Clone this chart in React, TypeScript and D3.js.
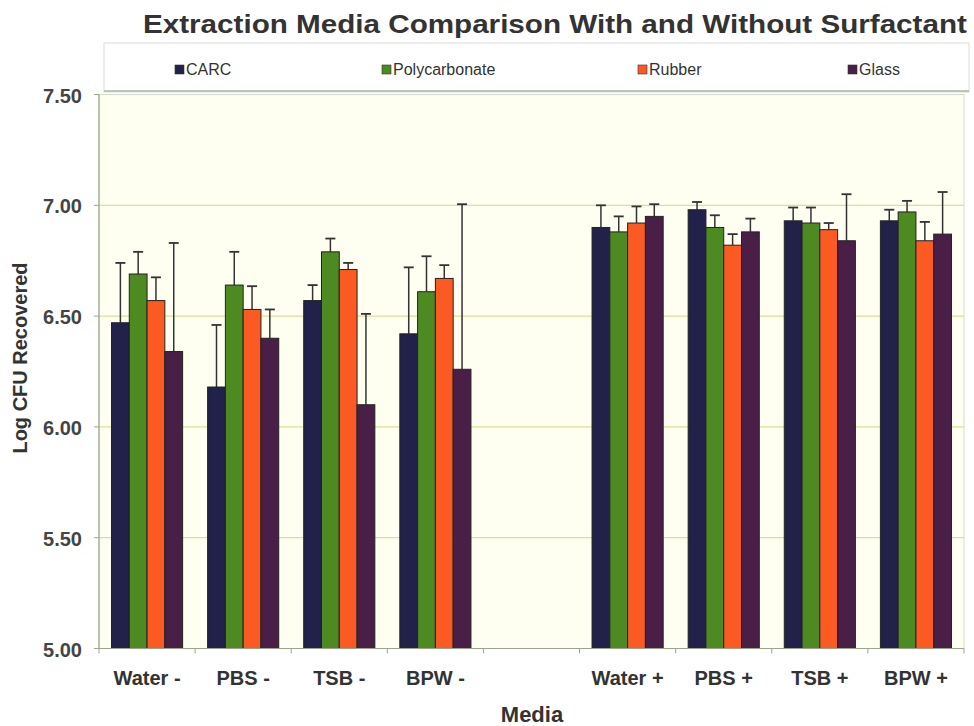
import React from "react";
import * as d3 from "d3";

const categories = ["Water -", "PBS -", "TSB -", "BPW -", "", "Water +", "PBS +", "TSB +", "BPW +"];
const seriesNames = ["CARC", "Polycarbonate", "Rubber", "Glass"];
const seriesColors = ["#22214a", "#4d8a22", "#fb5a22", "#4a1f47"];

const carcValues = [6.47, 6.18, 6.57, 6.42, null, 6.90, 6.98, 6.93, 6.93];
const carcErrors = [0.27, 0.28, 0.07, 0.30, null, 0.10, 0.035, 0.06, 0.05];
const polyValues = [6.69, 6.64, 6.79, 6.61, null, 6.88, 6.90, 6.92, 6.97];
const polyErrors = [0.10, 0.15, 0.06, 0.16, null, 0.07, 0.055, 0.07, 0.05];
const rubberValues = [6.57, 6.53, 6.71, 6.67, null, 6.92, 6.82, 6.89, 6.84];
const rubberErrors = [0.105, 0.105, 0.03, 0.06, null, 0.075, 0.05, 0.03, 0.085];
const glassValues = [6.34, 6.40, 6.10, 6.26, null, 6.95, 6.88, 6.84, 6.87];
const glassErrors = [0.49, 0.13, 0.41, 0.745, null, 0.055, 0.06, 0.21, 0.19];

const yTicks = [5.0, 5.5, 6.0, 6.5, 7.0, 7.5];

const seriesValues = [carcValues, polyValues, rubberValues, glassValues];
const seriesErrors = [carcErrors, polyErrors, rubberErrors, glassErrors];

export default function App() {
  const W = 974;
  const H = 726;
  const left = 99;
  const right = 964;
  const top = 94.5;
  const bottom = 648.5;

  const x = d3.scaleBand<string>()
    .domain(categories.map((c, i) => String(i)))
    .range([left, right])
    .paddingInner(0.26)
    .paddingOuter(0.13);
  const xs = d3.scaleBand<string>()
    .domain(seriesNames)
    .range([0, x.bandwidth()])
    .padding(0);
  const y = d3.scaleLinear().domain([5, 7.5]).range([bottom, top]);
  const step = x.step();

  const font = "Arial, 'Liberation Sans', sans-serif";
  const legendX = [175, 382, 638, 848];

  return (
    <svg width={W} height={H} style={{ position: "absolute", left: 0, top: 0, background: "#fff" }}>
      <rect x={0} y={0} width={W} height={H} fill="#ffffff" />
      <text transform="translate(143,33) scale(1.14,1)" x={0} y={0} fontFamily={font} fontWeight="bold" fontSize={26} fill="#333">
        Extraction Media Comparison With and Without Surfactant
      </text>
      {/* legend */}
      <rect x={104} y={43} width={865} height={49} fill="#fff" stroke="#dcdcdc" strokeWidth={1} />
      <line x1={104} x2={969} y1={91} y2={91} stroke="#a9b3a9" strokeWidth={1.5} />
      {seriesNames.map((s, i) => (
        <g key={s}>
          <rect x={legendX[i]} y={65} width={9} height={9} fill={seriesColors[i]} stroke="#333" strokeWidth={0.6} />
          <text x={legendX[i] + 11} y={75} fontFamily={font} fontSize={16} fill="#333">{s}</text>
        </g>
      ))}
      {/* plot area */}
      <rect x={left} y={top} width={right - left} height={bottom - top} fill="#fefef1" stroke="#cfe0c8" strokeWidth={1} />
      {yTicks.map((t) => (
        <g key={t}>
          {t > 5 && t < 7.5 && (
            <line x1={left} x2={right} y1={y(t)} y2={y(t)} stroke="#dbe095" strokeWidth={1.2} />
          )}
          <line x1={left - 5} x2={left} y1={y(t)} y2={y(t)} stroke="#9aa58a" strokeWidth={1} />
          <text x={82} y={y(t) + 8} textAnchor="end" fontFamily={font} fontWeight="bold" fontSize={20} fill="#444">
            {t.toFixed(2)}
          </text>
        </g>
      ))}
      {/* bars */}
      {categories.map((c, ci) => (
        <g key={ci}>
          {seriesNames.map((s, si) => {
            const v = seriesValues[si][ci];
            const e = seriesErrors[si][ci];
            if (v == null || e == null) return null;
            const bx = (x(String(ci)) as number) + (xs(s) as number);
            const bw = xs.bandwidth();
            const cx = bx + bw / 2;
            return (
              <g key={s}>
                <line x1={cx} x2={cx} y1={y(v)} y2={y(v + e)} stroke="#333" strokeWidth={1.5} />
                <line x1={cx - 5} x2={cx + 5} y1={y(v + e)} y2={y(v + e)} stroke="#333" strokeWidth={1.8} />
                <rect x={bx} y={y(v)} width={bw} height={bottom - y(v)} fill={seriesColors[si]} stroke="#222" strokeWidth={1} />
              </g>
            );
          })}
        </g>
      ))}
      {/* axes */}
      <line x1={left} x2={left} y1={top} y2={bottom} stroke="#9aa58a" strokeWidth={1.2} />
      <line x1={left} x2={right} y1={bottom} y2={bottom} stroke="#9aa58a" strokeWidth={1.2} />
      {d3.range(categories.length + 1).map((i) => (
        <line key={i} x1={left + i * step} x2={left + i * step} y1={bottom} y2={bottom + 5} stroke="#9aa58a" strokeWidth={1} />
      ))}
      {categories.map((c, ci) => (
        <text key={ci} x={(x(String(ci)) as number) + x.bandwidth() / 2} y={685} textAnchor="middle" fontFamily={font} fontWeight="bold" fontSize={20} fill="#333">
          {c}
        </text>
      ))}
      <text x={532} y={722} textAnchor="middle" fontFamily={font} fontWeight="bold" fontSize={22} fill="#333">Media</text>
      <text transform="translate(27,358) rotate(-90)" textAnchor="middle" fontFamily={font} fontWeight="bold" fontSize={20} fill="#333">
        Log CFU Recovered
      </text>
    </svg>
  );
}
